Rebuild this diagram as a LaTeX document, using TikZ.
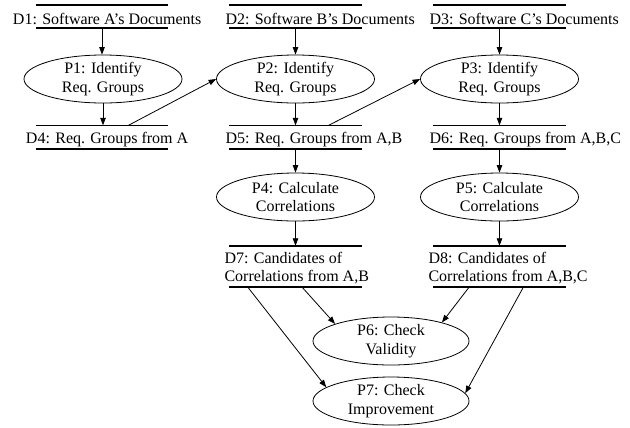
\documentclass[tikz,border=0pt]{standalone}
\usepackage{fontspec}
\setmainfont{Liberation Serif}
\usetikzlibrary{arrows.meta,shapes.geometric,calc}

% text of a data store, shifted relative to the left end of its bars
% and set a little below the middle of the two bars
\newcommand\storelabel[2]{\raisebox{-2.5bp}[\height][\depth]{\makebox[132bp][l]{\hspace*{#1}#2}}}
\newcommand\twolines[2]{\begin{tabular}{@{}l@{}}#1\\#2\end{tabular}}

\begin{document}
\begin{tikzpicture}[x=1bp,y=-1bp,
  every node/.style={font=\fontsize{16bp}{18.5bp}\selectfont},
  store/.style={rectangle, inner sep=0pt, minimum width=132bp, minimum height=23bp},
  store2/.style={store, minimum height=41bp},
  storeline/.style={line width=1.6bp},
  process/.style={ellipse, draw, line width=0.8bp, inner sep=0pt,
    minimum width=158bp, minimum height=48bp, align=center},
  arr/.style={line width=0.8bp, -{Triangle[length=7.5bp,width=5.5bp]}}
]
\useasboundingbox (0,0) rectangle (630,427);

% data stores
\node[store] (d1) at (102,16.5) {\storelabel{-23bp}{D1: Software A's Documents}};
\node[store] (d2) at (295.5,16.5) {\storelabel{-4bp}{D2: Software B's Documents}};
\node[store] (d3) at (499.5,16.5) {\storelabel{-4bp}{D3: Software C's Documents}};
\node[store] (d4) at (102,137) {\storelabel{-10bp}{D4: Req. Groups from A}};
\node[store] (d5) at (295.5,137) {\storelabel{-4bp}{D5: Req. Groups from A,B}};
\node[store] (d6) at (499.5,137) {\storelabel{-4bp}{D6: Req. Groups from A,B,C}};
\node[store2] (d7) at (295.5,266.5) {\storelabel{-5bp}{\twolines{D7: Candidates of}{Correlations from A,B}}};
\node[store2] (d8) at (499.5,266.5) {\storelabel{-5bp}{\twolines{D8: Candidates of}{Correlations from A,B,C}}};

\foreach \n in {d1,d2,d3,d4,d5,d6,d7,d8}
  \draw[storeline] (\n.north west) -- (\n.north east)
                   (\n.south west) -- (\n.south east);

% processes
\node[process] (p1) at (103,79) {P1: Identify\\Req. Groups};
\node[process] (p2) at (295.5,79) {P2: Identify\\Req. Groups};
\node[process] (p3) at (499.5,79) {P3: Identify\\Req. Groups};
\node[process] (p4) at (295.5,197) {P4: Calculate\\Correlations};
\node[process] (p5) at (499.5,197) {P5: Calculate\\Correlations};
\node[process, minimum width=156bp] (p6) at (391,341) {P6: Check\\Validity};
\node[process, minimum width=156bp] (p7) at (391,401) {P7: Check\\Improvement};

% points on the store bars where connectors leave
\coordinate (d4out) at ($(d4.north west)!0.70!(d4.north east)$);
\coordinate (d5out) at ($(d5.north west)!0.75!(d5.north east)$);
\coordinate (d7a) at ($(d7.south west)!0.14!(d7.south east)$);
\coordinate (d7b) at ($(d7.south west)!0.55!(d7.south east)$);
\coordinate (d8a) at ($(d8.south west)!0.27!(d8.south east)$);
\coordinate (d8b) at ($(d8.south west)!0.68!(d8.south east)$);

% flows
\draw[arr] (d1.south) -- (d1.south |- p1.north);
\draw[arr] (d2.south) -- (p2.north);
\draw[arr] (d3.south) -- (p3.north);
\draw[arr] (p1.south) -- (p1.south |- d4.north);
\draw[arr] (p2.south) -- (d5.north);
\draw[arr] (p3.south) -- (d6.north);
\draw[arr] (d4out) -- (p2.west);
\draw[arr] (d5out) -- (p3.west);
\draw[arr] (d5.south) -- (p4.north);
\draw[arr] (d6.south) -- (p5.north);
\draw[arr] (p4.south) -- (d7.north);
\draw[arr] (p5.south) -- (d8.north);
\draw[arr] (d7b) -- (p6.163);
\draw[arr] (d8a) -- (p6.20);
\draw[arr] (d7a) -- (p7.168);
\draw[arr] (d8b) -- (p7.6);
\end{tikzpicture}
\end{document}
